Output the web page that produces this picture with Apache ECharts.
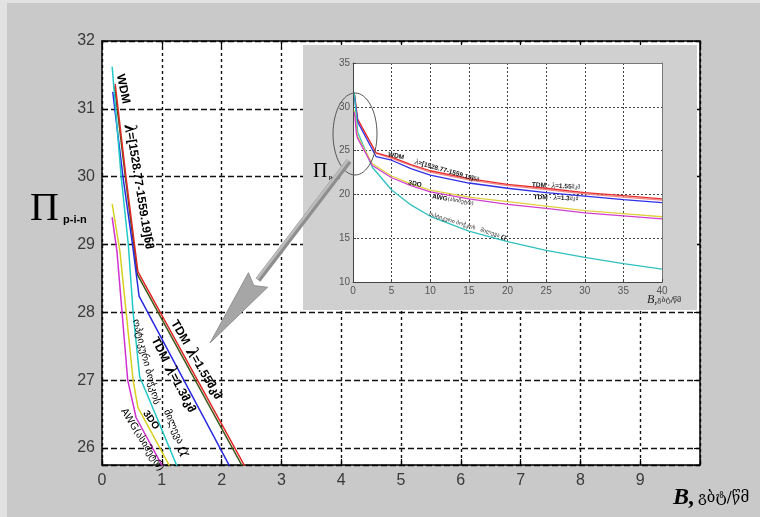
<!DOCTYPE html>
<html><head><meta charset="utf-8">
<script src="https://cdn.jsdelivr.net/npm/echarts@6/dist/echarts.min.js"></script>
<style>html,body{margin:0;padding:0;background:#c9c9c9}#c{width:760px;height:517px}</style>
</head><body><div id="c"></div>
<script>
// ---- data ----
const mainXTicks = [0,1,2,3,4,5,6,7,8,9];
const mainYTicks = [26,27,28,29,30,31,32];
const insetXTicks = [0,5,10,15,20,25,30,35,40];
const insetYTicks = [10,15,20,25,30,35];

const wdm    = [[0.22,31.37],[0.4,30],[0.6,28.6],[3,24.75],[5,24.25],[7.5,23.4],[10,22.7],[15,21.8],[20,21.15],[25,20.7],[30,20.2],[35,19.85],[40,19.5]];
const tdm155 = [[0.21,31.33],[0.39,30],[0.59,28.56],[3,24.68],[5,24.1],[7.5,23.3],[10,22.55],[15,21.65],[20,21.0],[25,20.55],[30,20.05],[35,19.7],[40,19.35]];
const tdm13  = [[0.18,31.25],[0.35,30],[0.51,29],[0.62,28.24],[3,24.3],[5,23.9],[7.5,22.95],[10,22.2],[15,21.3],[20,20.7],[25,20.2],[30,19.8],[35,19.4],[40,19.05]];
const fiber  = [[0.17,31.62],[0.32,30],[0.44,29],[0.52,28],[0.63,27.05],[0.75,26.8],[2.5,23.1],[5,20.5],[7.5,18.8],[10,17.5],[15,15.8],[20,14.6],[25,13.6],[30,12.8],[35,12.1],[40,11.48]];
const do3    = [[0.17,29.6],[0.3,28.9],[0.52,27],[0.6,26.6],[2.5,23.5],[5,22.1],[7.5,21.2],[10,20.5],[15,19.7],[20,19.17],[25,18.65],[30,18.14],[35,17.8],[40,17.45]];
const awg    = [[0.17,29.4],[0.25,28.9],[0.43,27],[0.57,26.45],[2.5,23.3],[5,21.9],[7.5,21.0],[10,20.3],[15,19.5],[20,18.87],[25,18.4],[30,17.9],[35,17.55],[40,17.2]];

const curves = [
  {name:'TDM λ=1.55', data:tdm155, main:'#3f5a1a', inset:'#f08a8a'},
  {name:'WDM', data:wdm, main:'#e02828', inset:'#e83030'},
  {name:'TDM λ=1.3', data:tdm13, main:'#2a2ae0', inset:'#3030e8'},
  {name:'α', data:fiber, main:'#22c8c8', inset:'#30c0c0'},
  {name:'3DO', data:do3, main:'#d8d020', inset:'#e0d040'},
  {name:'AWG', data:awg, main:'#d030d0', inset:'#d040d0'}
];

const GEO = "'DejaVu Sans', sans-serif";
const ARIAL = "'Liberation Sans', 'DejaVu Sans', sans-serif";
const SERIF = "'Liberation Serif', 'DejaVu Serif', serif";
const deg = d => d * Math.PI / 180;

function inList(list) { return v => list.indexOf(Math.round(v * 100) / 100) >= 0 ? String(Math.round(v*100)/100) : ''; }

function axisBase(extra) {
  return Object.assign({
    type: 'value',
    axisLine: {show: true, onZero: false, lineStyle: {color: '#000', width: 1.5}},
    axisTick: {show: true, inside: true, length: 6, lineStyle: {color: '#000', width: 1.2}},
    splitLine: {show: false}
  }, extra);
}

const chart = echarts.init(document.getElementById('c'), null, {renderer: 'canvas'});

const series = [];
curves.forEach(c => {
  series.push({type: 'line', name: c.name, xAxisIndex: 0, yAxisIndex: 0, data: c.data, showSymbol: false,
    lineStyle: {color: c.main, width: 1.5}, z: 2, animation: false, clip: true});
});
curves.forEach(c => {
  series.push({type: 'line', name: c.name + ' inset', xAxisIndex: 2, yAxisIndex: 2, data: c.data, showSymbol: false,
    lineStyle: {color: c.inset, width: 1.3}, z: 5, animation: false, clip: true});
});

function txt(x, y, rotDeg, text, rich, z, extraStyle) {
  return {type: 'text', x: x, y: y, rotation: deg(rotDeg), z: z || 10,
    style: Object.assign({text: text, rich: rich, align: 'center', verticalAlign: 'middle',
      textAlign: 'center', textVerticalAlign: 'middle', fill: '#000'}, extraStyle || {})};
}

const richMain = {
  t: {fontFamily: ARIAL, fontWeight: 'bold', fontSize: 12, fill: '#000', color: '#000'},
  l: {fontFamily: SERIF, fontStyle: 'italic', fontWeight: 'bold', fontSize: 18, fill: '#000', color: '#000'},
  g: {fontFamily: GEO, fontSize: 10, fill: '#000', color: '#000'},
  gb: {fontFamily: GEO, fontWeight: 'bold', fontSize: 11, fill: '#000', color: '#000'},
  a: {fontFamily: SERIF, fontStyle: 'italic', fontSize: 20, fill: '#000', color: '#000'},
  s: {fontFamily: ARIAL, fontWeight: 'bold', fontSize: 10, fill: '#000', color: '#000'}
};
const richInset = {
  t: {fontFamily: ARIAL, fontWeight: 'bold', fontSize: 6.5, fill: '#111', color: '#111'},
  l: {fontFamily: SERIF, fontStyle: 'italic', fontSize: 8, fill: '#111', color: '#111'},
  g: {fontFamily: GEO, fontSize: 5.5, fill: '#222', color: '#222'},
  a: {fontFamily: SERIF, fontStyle: 'italic', fontSize: 11, fill: '#111', color: '#111'}
};

// arrow geometry
const aTip = [210, 343], aBase = [258, 280], aStart = [349, 161];
const dir = [0.606, -0.795], perp = [0.795, 0.606];
const wingA = [aBase[0] + perp[0]*12, aBase[1] + perp[1]*12];
const wingB = [aBase[0] - perp[0]*12, aBase[1] - perp[1]*12];
const notch = [aBase[0] - dir[0]*7, aBase[1] - dir[1]*7];

const option = {
  backgroundColor: '#c9c9c9',
  animation: false,
  grid: [
    {left: 102, top: 41, width: 598, height: 424, show: true, backgroundColor: '#ffffff', borderWidth: 0, z: 0},
    {left: 353, top: 63, width: 309, height: 219, show: true, backgroundColor: '#ffffff', borderWidth: 0, z: 3}
  ],
  xAxis: [
    axisBase({gridIndex: 0, position: 'bottom', min: 0, max: 10, interval: 1,
      axisLabel: {fontSize: 16, color: '#3a3a3a', margin: 8, fontFamily: ARIAL, formatter: inList(mainXTicks)},
      splitLine: {show: true, lineStyle: {color: '#111', type: [3, 3], width: 1.4}}}),
    axisBase({gridIndex: 0, position: 'top', min: 0, max: 10, interval: 1, axisLabel: {show: false}}),
    axisBase({gridIndex: 1, position: 'bottom', min: 0, max: 40, interval: 5, z: 4,
      axisLine: {show: true, onZero: false, lineStyle: {color: '#444', width: 1}},
      axisTick: {show: true, inside: true, length: 3, lineStyle: {color: '#444', width: 1}},
      axisLabel: {fontSize: 10, color: '#555', margin: 4, fontFamily: ARIAL, formatter: inList(insetXTicks)},
      splitLine: {show: true, lineStyle: {color: '#444', type: [2, 2], width: 1}}}),
    axisBase({gridIndex: 1, position: 'top', min: 0, max: 40, interval: 5, z: 4,
      axisLine: {show: true, onZero: false, lineStyle: {color: '#777', width: 1}},
      axisTick: {show: false}, axisLabel: {show: false}})
  ],
  yAxis: [
    axisBase({gridIndex: 0, position: 'left', min: 25.75, max: 32, splitNumber: 6,
      axisLabel: {fontSize: 16, color: '#3a3a3a', margin: 7, fontFamily: ARIAL, formatter: inList(mainYTicks)},
      splitLine: {show: true, lineStyle: {color: '#111', type: [6, 3], width: 1.4}}}),
    axisBase({gridIndex: 0, position: 'right', min: 25.75, max: 32, splitNumber: 6, axisLabel: {show: false}}),
    axisBase({gridIndex: 1, position: 'left', min: 10, max: 35, interval: 5, z: 4,
      axisLine: {show: true, onZero: false, lineStyle: {color: '#444', width: 1}},
      axisTick: {show: true, inside: true, length: 3, lineStyle: {color: '#444', width: 1}},
      axisLabel: {fontSize: 10, color: '#555', margin: 3, fontFamily: ARIAL, formatter: inList(insetYTicks)},
      splitLine: {show: true, lineStyle: {color: '#444', type: [2, 2], width: 1}}}),
    axisBase({gridIndex: 1, position: 'right', min: 10, max: 35, interval: 5, z: 4,
      axisLine: {show: true, onZero: false, lineStyle: {color: '#777', width: 1}},
      axisTick: {show: false}, axisLabel: {show: false}})
  ],
  series: series,
  graphic: {elements: [
    {type: 'rect', shape: {x: 0, y: 0, width: 7, height: 517}, style: {fill: '#e2e2e2'}, z: 0, silent: true},
    {type: 'rect', shape: {x: 0, y: 0, width: 760, height: 3}, style: {fill: '#e2e2e2'}, z: 0, silent: true},
    {type: 'rect', shape: {x: 303, y: 45, width: 394, height: 265}, style: {fill: '#d0d0d0'}, z: 1, silent: true},
    // main axis names
    {type: 'text', x: 30, y: 209, z: 10, style: {text: 'Π', font: '40px ' + SERIF, fill: '#000', align: 'left', verticalAlign: 'middle', textAlign: 'left', textVerticalAlign: 'middle'}},
    {type: 'text', x: 63, y: 220, z: 10, style: {text: 'p-i-n', font: 'bold 11px ' + ARIAL, fill: '#000', align: 'left', verticalAlign: 'middle', textAlign: 'left', textVerticalAlign: 'middle'}},
    {type: 'text', x: 673, y: 498, z: 10, style: {text: '{b|B,}{g|გბტ/წმ}', align: 'left', verticalAlign: 'middle', textAlign: 'left', textVerticalAlign: 'middle',
      rich: {b: {fontFamily: SERIF, fontStyle: 'italic', fontWeight: 'bold', fontSize: 24, fill: '#000', color: '#000'},
             g: {fontFamily: "'DejaVu Serif', serif", fontSize: 15, fill: '#000', color: '#000', padding: [0, 0, 0, 3]}}}},
    // inset axis names
    {type: 'text', x: 313, y: 172, z: 10, style: {text: 'Π', font: '20px ' + SERIF, fill: '#000', align: 'left', verticalAlign: 'middle', textAlign: 'left', textVerticalAlign: 'middle'}},
    {type: 'text', x: 329, y: 178, z: 10, style: {text: 'p-i-n', font: 'bold 5px ' + ARIAL, fill: '#000', align: 'left', verticalAlign: 'middle', textAlign: 'left', textVerticalAlign: 'middle'}},
    {type: 'text', x: 647, y: 300, z: 10, style: {text: '{b|B,}{g|გბტ/წმ}', align: 'left', verticalAlign: 'middle', textAlign: 'left', textVerticalAlign: 'middle',
      rich: {b: {fontFamily: SERIF, fontStyle: 'italic', fontSize: 12, fill: '#222', color: '#222'},
             g: {fontFamily: "'DejaVu Serif', serif", fontSize: 7, fill: '#222', color: '#222'}}}},
    // ellipse
    {type: 'ellipse', shape: {cx: 355, cy: 134, rx: 22, ry: 41}, style: {fill: 'none', stroke: '#555', lineWidth: 1}, z: 10, silent: true},
    // arrow
    {type: 'line', shape: {x1: aStart[0], y1: aStart[1], x2: aBase[0], y2: aBase[1]}, style: {stroke: '#8e8e8e', lineWidth: 6}, z: 10, silent: true},
    {type: 'line', shape: {x1: aStart[0]-1, y1: aStart[1]-1, x2: aBase[0]-1, y2: aBase[1]-1}, style: {stroke: '#bdbdbd', lineWidth: 2.5}, z: 10, silent: true},
    {type: 'polygon', shape: {points: [aTip, wingB, notch, wingA]}, style: {fill: '#a6a6a6', stroke: '#909090', lineWidth: 1}, z: 10, silent: true},
    // main labels
    txt(123, 89, -78, '{t|WDM}', richMain),
    txt(139, 187, -81, '{l|λ}{t|=[1528.77-1559.19]}{gb|ნმ}', richMain),
    txt(196, 360, -60, '{t|TDM  }{l|λ}{t|=1.55}{gb|მკმ}', richMain),
    txt(173, 375, -63, '{t|TDM  }{l|λ}{t|=1.3}{gb|მკმ}', richMain),
    txt(146, 362, -76, '{g|ოპტიკური ბოჭკოს}', richMain),
    txt(176, 433, -67, '{g|მილევა }{a|α}', richMain),
    txt(151, 420, -55, '{s|3DO}', richMain),
    txt(142, 440, -58, '{g|AWG(ასიმეტრ)}', richMain),
    // inset labels
    txt(396, 156, -12, '{t|WDM}', richInset),
    txt(447, 171, -16, '{l|λ}{t|=[1528.77-1559.19]}{g|ნმ}', richInset),
    txt(556, 186, -3, '{t|TDM · }{l|λ}{t|=1.55}{g|მკმ}', richInset),
    txt(556, 198, -2, '{t|TDM · }{l|λ}{t|=1.3}{g|მკმ}', richInset),
    txt(415, 184, -12, '{t|3DO}', richInset),
    txt(453, 200, -10, '{t|AWG}{g|(ასიმეტრ)}', richInset),
    txt(468, 226, -17, '{g|ოპტიკური ბოჭკოს   მილევა }{a|α}', richInset)
  ]}
};
chart.setOption(option);
</script>
</body></html>
